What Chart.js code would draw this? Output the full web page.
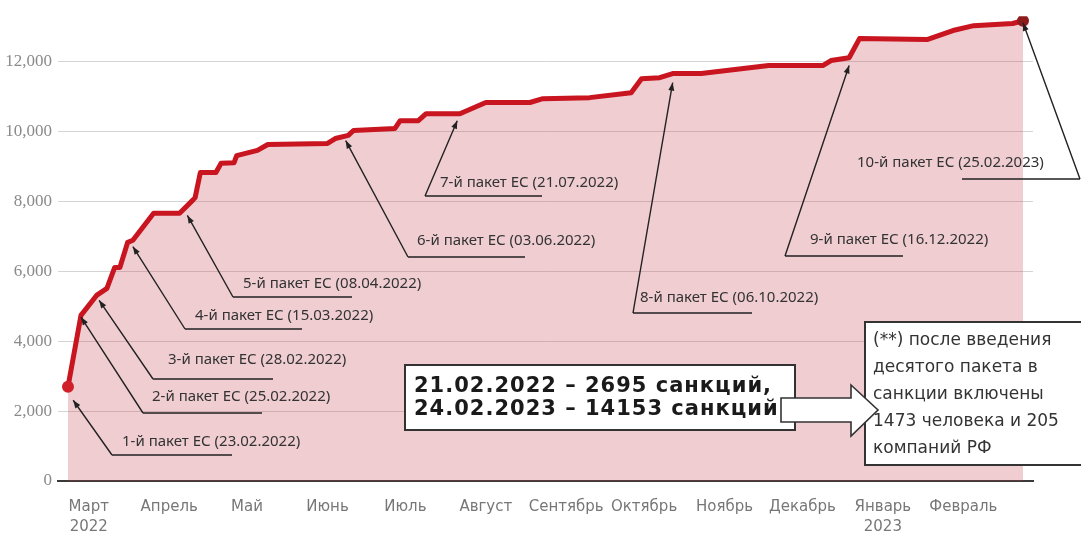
<!DOCTYPE html>
<html>
<head>
<meta charset="utf-8">
<script src="https://cdn.jsdelivr.net/npm/chart.js@4.4.1/dist/chart.umd.min.js"></script>
<style>
  html, body { margin: 0; padding: 0; background: #fff; }
  #wrap { width: 1081px; height: 534px; }
</style>
</head>
<body>
<div id="wrap"><canvas id="sanctionsChart"></canvas></div>
<script>
// накопленное число санкций
var dates = ['2022-02-21','2022-02-26','2022-03-04','2022-03-08','2022-03-11','2022-03-13','2022-03-16','2022-03-18',
  '2022-03-26','2022-04-05','2022-04-10','2022-04-11','2022-04-13','2022-04-19','2022-04-21','2022-04-26','2022-04-27',
  '2022-05-05','2022-05-09','2022-06-01','2022-06-04','2022-06-09','2022-06-11','2022-06-27','2022-06-29','2022-07-06',
  '2022-07-09','2022-07-22','2022-08-01','2022-08-18','2022-08-23','2022-09-10','2022-09-26','2022-09-30','2022-10-07',
  '2022-10-12','2022-10-23','2022-11-18','2022-12-09','2022-12-12','2022-12-19','2022-12-23','2023-01-18','2023-01-28',
  '2023-02-05','2023-02-20','2023-02-24'];
var sanctions = [2695,4740,5310,5510,6110,6110,6830,6890,7660,7660,8030,8110,8830,8830,9090,9110,9310,9460,9630,9660,
  9800,9890,10030,10090,10310,10310,10510,10510,10830,10830,10940,10970,11110,11510,11540,11660,11660,11890,11890,12030,
  12110,12660,12630,12890,13030,13090,13170];

var monthTicks = ['2022-03-01','2022-04-01','2022-05-01','2022-06-01','2022-07-01','2022-08-01','2022-09-01',
  '2022-10-01','2022-11-01','2022-12-01','2023-01-01','2023-02-01'];
var monthLabels = [['Март','2022'],'Апрель','Май','Июнь','Июль','Август','Сентябрь','Октябрь','Ноябрь','Декабрь',['Январь','2023'],'Февраль'];
var yTicks = [0, 2000, 4000, 6000, 8000, 10000, 12000];

// пакеты ЕС и точки на линии, куда указывают стрелки
var packageLabels = ['1-й пакет ЕС (23.02.2022)','2-й пакет ЕС (25.02.2022)','3-й пакет ЕС (28.02.2022)',
  '4-й пакет ЕС (15.03.2022)','5-й пакет ЕС (08.04.2022)','6-й пакет ЕС (03.06.2022)','7-й пакет ЕС (21.07.2022)',
  '8-й пакет ЕС (06.10.2022)','9-й пакет ЕС (16.12.2022)','10-й пакет ЕС (25.02.2023)'];
var packageDates = ['2022-02-23','2022-02-26','2022-03-05','2022-03-18','2022-04-08','2022-06-08','2022-07-21',
  '2022-10-12','2022-12-19','2023-02-24'];
var packageValues = [2310, 4690, 5170, 6710, 7600, 9740, 10310, 11400, 11890, 13110];

var summaryLines = ['21.02.2022 – 2695 санкций,', '24.02.2023 – 14153 санкций'];
var noteLines = ['(**) после введения', 'десятого пакета в', 'санкции включены', '1473 человека и 205', 'компаний РФ'];

function dayOf(s) {
  var p = s.split('-').map(Number);
  return (Date.UTC(p[0], p[1] - 1, p[2]) - Date.UTC(2022, 1, 21)) / 86400000;
}

// раскладка подписей (пиксели): текст, подчёркивание, с какой стороны выноска
var calloutLayout = [
  { tx: 122, ty: 442, u1: 112, u2: 232, uy: 455, side: 'left' },
  { tx: 152, ty: 397, u1: 143, u2: 262, uy: 413, side: 'left' },
  { tx: 168, ty: 360, u1: 153, u2: 273, uy: 379, side: 'left' },
  { tx: 195, ty: 316, u1: 185, u2: 302, uy: 329, side: 'left' },
  { tx: 243, ty: 284, u1: 233, u2: 352, uy: 297, side: 'left' },
  { tx: 417, ty: 241, u1: 408, u2: 525, uy: 257, side: 'left' },
  { tx: 440, ty: 183, u1: 425, u2: 542, uy: 196, side: 'left' },
  { tx: 640, ty: 298, u1: 633, u2: 752, uy: 313, side: 'left' },
  { tx: 810, ty: 240, u1: 785, u2: 903, uy: 256, side: 'left' },
  { tx: 857, ty: 163, u1: 962, u2: 1080, uy: 179, side: 'right' }
];

var calloutPlugin = {
  id: 'callouts',
  afterDatasetsDraw: function (chart) {
    var ctx = chart.ctx, xs = chart.scales.x, ys = chart.scales.y;
    ctx.save();
    ctx.strokeStyle = '#222';
    ctx.fillStyle = '#222';
    ctx.lineWidth = 1.4;
    ctx.font = '15px "Noto Sans"';
    ctx.textBaseline = 'middle';
    packageLabels.forEach(function (label, i) {
      var L = calloutLayout[i];
      var px = xs.getPixelForValue(dayOf(packageDates[i]));
      var py = ys.getPixelForValue(packageValues[i]);
      var ax = L.side === 'right' ? L.u2 : L.u1;
      ctx.beginPath();
      ctx.moveTo(L.u1, L.uy);
      ctx.lineTo(L.u2, L.uy);
      ctx.moveTo(ax, L.uy);
      ctx.lineTo(px, py);
      ctx.stroke();
      var a = Math.atan2(py - L.uy, px - ax);
      ctx.beginPath();
      ctx.moveTo(px, py);
      ctx.lineTo(px - 8 * Math.cos(a) + 3 * Math.sin(a), py - 8 * Math.sin(a) - 3 * Math.cos(a));
      ctx.lineTo(px - 8 * Math.cos(a) - 3 * Math.sin(a), py - 8 * Math.sin(a) + 3 * Math.cos(a));
      ctx.closePath();
      ctx.fill();
      ctx.fillStyle = '#333';
      ctx.fillText(label, L.tx, L.ty);
      ctx.fillStyle = '#222';
    });

    // рамка с итогами
    ctx.fillStyle = '#fff';
    ctx.fillRect(405, 365, 390, 65);
    ctx.lineWidth = 2;
    ctx.strokeStyle = '#333';
    ctx.strokeRect(405, 365, 390, 65);
    ctx.fillStyle = '#1a1a1a';
    ctx.font = 'bold 21px "DejaVu Sans"';
    ctx.letterSpacing = '1px';
    ctx.fillText(summaryLines[0], 414, 387);
    ctx.fillText(summaryLines[1], 414, 410);
    ctx.letterSpacing = '0px';

    // примечание справа
    ctx.fillStyle = '#fff';
    ctx.fillRect(865, 322, 220, 143);
    ctx.strokeRect(865, 322, 220, 143);
    ctx.fillStyle = '#333';
    ctx.font = '17px "DejaVu Sans"';
    noteLines.forEach(function (t, i) { ctx.fillText(t, 873, 341 + i * 27); });

    // стрелка
    ctx.beginPath();
    ctx.moveTo(781, 398); ctx.lineTo(851, 398); ctx.lineTo(851, 385);
    ctx.lineTo(878, 410); ctx.lineTo(851, 436); ctx.lineTo(851, 422);
    ctx.lineTo(781, 422); ctx.closePath();
    ctx.fillStyle = '#fff';
    ctx.fill();
    ctx.lineWidth = 1.6;
    ctx.stroke();
    ctx.restore();
  }
};

var points = dates.map(function (d, i) { return { x: dayOf(d), y: sanctions[i] }; });
var last = points.length - 1;

new Chart(document.getElementById('sanctionsChart').getContext('2d'), {
  type: 'line',
  data: {
    datasets: [{
      data: points,
      borderColor: '#c8151f',
      borderWidth: 5,
      borderJoinStyle: 'round',
      backgroundColor: 'rgba(191, 55, 71, 0.25)',
      fill: 'origin',
      tension: 0,
      pointRadius: function (c) { return (c.dataIndex === 0 || c.dataIndex === last) ? 6 : 0; },
      pointBackgroundColor: function (c) { return c.dataIndex === last ? '#8e1b1b' : '#d0202a'; },
      pointBorderWidth: 0
    }]
  },
  options: {
    responsive: true,
    maintainAspectRatio: false,
    animation: false,
    layout: { padding: { top: 8, right: 48, left: 0, bottom: 0 } },
    plugins: { legend: { display: false }, tooltip: { enabled: false } },
    scales: {
      x: {
        type: 'linear',
        min: -3.85,
        max: 371.85,
        afterBuildTicks: function (s) { s.ticks = monthTicks.map(function (d) { return { value: dayOf(d) }; }); },
        afterFit: function (s) { s.height = 53; },
        grid: { color: 'rgba(0,0,0,0)', drawTicks: false },
        border: { display: true, color: '#3a3a3a', width: 2 },
        ticks: {
          autoSkip: false,
          maxRotation: 0,
          padding: 16,
          color: '#777',
          font: { family: 'DejaVu Sans', size: 15, lineHeight: 1.33 },
          callback: function (v, i) { return monthLabels[i]; }
        }
      },
      y: {
        min: 0,
        max: 13300,
        afterBuildTicks: function (s) { s.ticks = yTicks.map(function (v) { return { value: v }; }); },
        afterFit: function (s) { s.width = 58; },
        grid: { color: '#d4d4d4', drawTicks: false },
        border: { display: false },
        ticks: {
          padding: 6,
          color: '#8a8a8a',
          font: { family: 'Liberation Sans Narrow', size: 17 },
          callback: function (v) { return v.toLocaleString('en-US'); }
        }
      }
    }
  },
  plugins: [calloutPlugin]
});
</script>
</body>
</html>
